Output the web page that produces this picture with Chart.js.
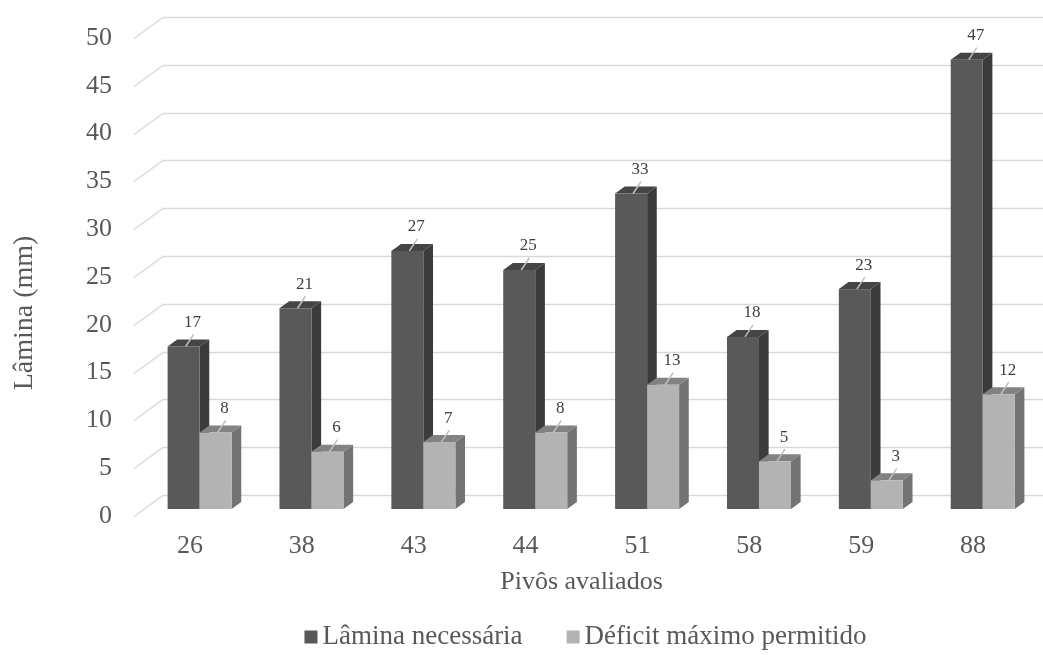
<!DOCTYPE html>
<html>
<head>
<meta charset="utf-8">
<script src="https://cdn.jsdelivr.net/npm/chart.js@4.4.0/dist/chart.umd.min.js"></script>
<style>
  html, body { margin: 0; padding: 0; background: #ffffff; }
  #wrap { width: 1043px; height: 655px; }
</style>
</head>
<body>
<div id="wrap"><canvas id="c" width="1043" height="655"></canvas></div>
<script>
// Irrigation depth per evaluated centre pivot (mm)
const pivos = ['26', '38', '43', '44', '51', '58', '59', '88'];
const laminaNecessaria = [17, 21, 27, 25, 33, 18, 23, 47];
const deficitMaximo = [8, 6, 7, 8, 13, 5, 3, 12];
const yTickValues = [0, 5, 10, 15, 20, 25, 30, 35, 40, 45, 50];
const seriesNames = ['Lâmina necessária', 'Déficit máximo permitido'];
const axisTitles = { x: 'Pivôs avaliados', y: 'Lâmina (mm)' };

const FONT = "'Liberation Serif', 'Times New Roman', serif";
const TEXT = '#595959';

// Faces of each 3D column: front, side, top
const palette = [
  { front: '#595959', side: '#3b3b3b', top: '#454545' },
  { front: '#b3b3b3', side: '#737373', top: '#828282' }
];

// Full depth of the floor (x shift, y shift); columns sit in its middle third
const DX = 29, DY = -21;

const depth3d = {
  id: 'depth3d',
  beforeDatasetsDraw(chart) {
    const { ctx, chartArea, scales } = chart;
    const y = scales.y;
    ctx.save();

    // back wall grid with the perspective stubs on the left
    ctx.strokeStyle = '#d9d9d9';
    ctx.lineWidth = 1.4;
    y.ticks.forEach(t => {
      const py = Math.round(y.getPixelForValue(t.value)) + 0.5;
      ctx.beginPath();
      ctx.moveTo(chartArea.left, py);
      ctx.lineTo(chartArea.left + DX, py + DY);
      ctx.lineTo(chart.width, py + DY);
      ctx.stroke();
    });

    const sx = DX / 3, sy = DY / 3;
    const n = chart.data.labels.length;
    const labels = [];
    for (let i = 0; i < n; i++) {
      chart.data.datasets.forEach((ds, d) => {
        const el = chart.getDatasetMeta(d).data[i];
        const col = palette[d];
        const l = el.x - el.width / 2 + sx;
        const r = el.x + el.width / 2 + sx;
        const t = el.y + sy;
        const b = el.base + sy;
        // side face
        ctx.fillStyle = col.side;
        ctx.beginPath();
        ctx.moveTo(r, b); ctx.lineTo(r + sx, b + sy);
        ctx.lineTo(r + sx, t + sy); ctx.lineTo(r, t);
        ctx.closePath(); ctx.fill();
        // top face
        ctx.fillStyle = col.top;
        ctx.beginPath();
        ctx.moveTo(l, t); ctx.lineTo(l + sx, t + sy);
        ctx.lineTo(r + sx, t + sy); ctx.lineTo(r, t);
        ctx.closePath(); ctx.fill();
        // front face
        ctx.fillStyle = col.front;
        ctx.fillRect(l, t, r - l, b - t);
        labels.push({ cx: el.x + sx, top: t, value: ds.data[i] });
      });
    }

    // value labels with short leader lines
    ctx.font = '17px ' + FONT;
    ctx.textAlign = 'center';
    ctx.textBaseline = 'middle';
    labels.forEach(p => {
      ctx.strokeStyle = '#bfbfbf';
      ctx.lineWidth = 1.5;
      ctx.beginPath();
      ctx.moveTo(p.cx + 2, p.top);
      ctx.lineTo(p.cx + 10, p.top - 12);
      ctx.stroke();
      ctx.fillStyle = '#404040';
      ctx.fillText(String(p.value), p.cx + 9, p.top - 24);
    });

    ctx.restore();
    return false;
  },
  afterDraw(chart) {
    const { ctx, chartArea } = chart;
    ctx.save();
    // vertical axis title
    ctx.fillStyle = TEXT;
    ctx.font = '28px ' + FONT;
    ctx.textAlign = 'center';
    ctx.textBaseline = 'middle';
    ctx.translate(25, 313);
    ctx.rotate(-Math.PI / 2);
    ctx.fillText(axisTitles.y, 0, 0);
    ctx.restore();

    // legend
    ctx.save();
    ctx.font = '27px ' + FONT;
    ctx.textBaseline = 'middle';
    ctx.textAlign = 'left';
    const box = 13, gap = 5, spacing = 44;
    const widths = seriesNames.map(s => ctx.measureText(s).width);
    const total = widths.reduce((a, w) => a + box + gap + w, 0) + spacing * (seriesNames.length - 1);
    let x = (chartArea.left + chartArea.right) / 2 + 4 - total / 2;
    const ly = 637;
    seriesNames.forEach((s, k) => {
      ctx.fillStyle = palette[k].front;
      ctx.fillRect(x, ly - box / 2, box, box);
      ctx.fillStyle = TEXT;
      ctx.fillText(s, x + box + gap, ly);
      x += box + gap + widths[k] + spacing;
    });
    ctx.restore();
  }
};

new Chart(document.getElementById('c'), {
  type: 'bar',
  data: {
    labels: pivos,
    datasets: [
      { label: seriesNames[0], data: laminaNecessaria, backgroundColor: palette[0].front },
      { label: seriesNames[1], data: deficitMaximo, backgroundColor: palette[1].front }
    ]
  },
  options: {
    responsive: false,
    animation: false,
    devicePixelRatio: 1,
    datasets: { bar: { categoryPercentage: 0.572, barPercentage: 1.0 } },
    layout: { padding: { top: 38, right: 14, bottom: 55, left: 0 } },
    plugins: {
      legend: { display: false },
      tooltip: { enabled: false }
    },
    scales: {
      x: {
        grid: { display: false, drawTicks: false },
        border: { display: false },
        ticks: { font: { family: FONT, size: 26 }, color: TEXT, padding: 15 },
        title: {
          display: true, text: axisTitles.x,
          font: { family: FONT, size: 26 }, color: TEXT,
          padding: { top: 0, bottom: 2 }
        },
        afterFit: s => { s.height = 84; }
      },
      y: {
        min: 0, max: 50,
        afterBuildTicks: s => { s.ticks = yTickValues.map(v => ({ value: v })); },
        grid: { display: false, drawTicks: false },
        border: { display: false },
        ticks: { font: { family: FONT, size: 26 }, color: TEXT, padding: 22 },
        afterFit: s => { s.width = 134; }
      }
    }
  },
  plugins: [depth3d]
});
</script>
</body>
</html>
